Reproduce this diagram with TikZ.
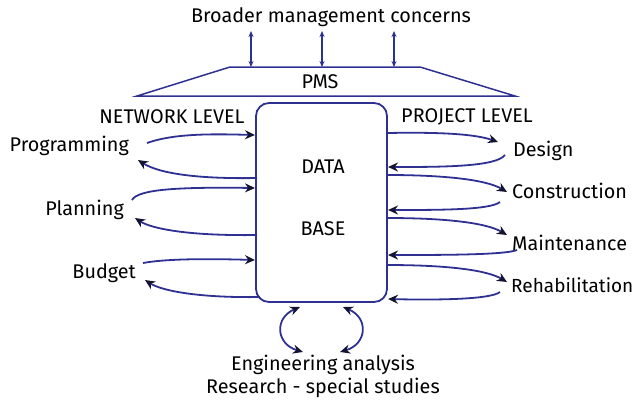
\documentclass[tikz,border=0pt]{standalone}
\usepackage{fontspec}
\setmainfont{Fira Sans}
\usetikzlibrary{arrows.meta}
\definecolor{lineblue}{RGB}{46,49,146}
\definecolor{tipnavy}{RGB}{20,20,50}
\tikzset{
  conn/.style={draw=lineblue, line width=1.8pt, -{Stealth[length=10pt,width=9pt,fill=tipnavy,color=tipnavy]}},
  bconn/.style={draw=lineblue, line width=1.8pt, {Stealth[length=10pt,width=9pt,fill=tipnavy,color=tipnavy]}-{Stealth[length=10pt,width=9pt,fill=tipnavy,color=tipnavy]}},
  vconn/.style={draw=lineblue, line width=1.4pt, {Stealth[length=6pt,width=5pt,fill=lineblue,color=lineblue]}-{Stealth[length=6pt,width=5pt,fill=lineblue,color=lineblue]}},
  lbl/.style={inner sep=0pt, font=\fontsize{19.8}{22}\selectfont},
}
\begin{document}
\begin{tikzpicture}[x=1pt,y=-1pt]
\useasboundingbox (0,0) rectangle (637,400);
% PMS trapezoid
\draw[lineblue, line width=1.5pt] (137,96) coordinate (tl) -- (230,67) -- (420,67) -- (515,96) -- cycle;
\node[lbl] (pms) at (320,82) {PMS};
\node[lbl] (broad) at (331,17) {Broader management concerns};
\coordinate (b1t) at (251,31); \coordinate (b1b) at (251,67);
\coordinate (b2t) at (322,31); \coordinate (b2b) at (322,67);
\coordinate (b3t) at (394,31); \coordinate (b3b) at (394,67);
\draw[vconn] (b1t) -- (b1b);
\draw[vconn] (b2t) -- (b2b);
\draw[vconn] (b3t) -- (b3b);
% database
\draw[lineblue, line width=1.8pt, rounded corners=13pt] (256,103) rectangle (387,302);
\node[lbl] (data) at (323,167) {DATA};
\node[lbl] (base) at (323,229) {BASE};
\node[lbl] (net) at (172,117) {NETWORK LEVEL};
\node[lbl] (proj) at (467,117) {PROJECT LEVEL};
% left labels
\node[lbl, anchor=east] (prog) at (129,146) {Programming};
\node[lbl, anchor=east] (plan) at (124,210) {Planning};
\node[lbl, anchor=east] (budg) at (136,273) {Budget};
% right labels
\node[lbl, anchor=west] (des) at (513,151) {Design};
\node[lbl, anchor=west] (cons) at (512,191) {Construction};
\node[lbl, anchor=west] (main) at (512,243) {Maintenance};
\node[lbl, anchor=west, font=\fontsize{19}{22}\selectfont] (rehab) at (511,285) {Rehabilitation};
\node[lbl] (eng) at (323,365) {Engineering analysis};
\node[lbl] (res) at (323,388) {Research - special studies};
% left arrows
\draw[conn] (147,143) .. controls (175,133) and (215,134) .. (255,135);
\draw[conn] (257,178) .. controls (200,179) and (160,174) .. (138,160);
\draw[conn] (132,200) .. controls (138,189) and (180,187) .. (255,188);
\draw[conn] (257,235) .. controls (190,236) and (152,229) .. (135,218);
\draw[conn] (143,263) .. controls (170,258) and (220,259) .. (255,260);
\draw[conn] (260,297) .. controls (200,298) and (162,291) .. (145,280);
% right arrows
\draw[conn] (387,133) .. controls (440,132) and (475,134) .. (498,142);
\draw[conn] (505,155) .. controls (496,167) and (440,167) .. (388,167);
\draw[conn] (387,175) .. controls (440,175) and (485,179) .. (507,192);
\draw[conn] (500,202) .. controls (490,210) and (440,210) .. (388,210);
\draw[conn] (387,218) .. controls (440,218) and (485,222) .. (507,235);
\draw[conn] (517,250) .. controls (505,255) and (440,255) .. (388,255);
\draw[conn] (387,265) .. controls (440,265) and (485,269) .. (507,282);
\draw[conn] (500,292) .. controls (490,300) and (430,300) .. (388,299);
% bottom arrows
\draw[bconn] (300,307) .. controls (274,318) and (276,344) .. (303,352);
\draw[bconn] (343,307) .. controls (369,318) and (367,344) .. (340,352);
\end{tikzpicture}
\end{document}
